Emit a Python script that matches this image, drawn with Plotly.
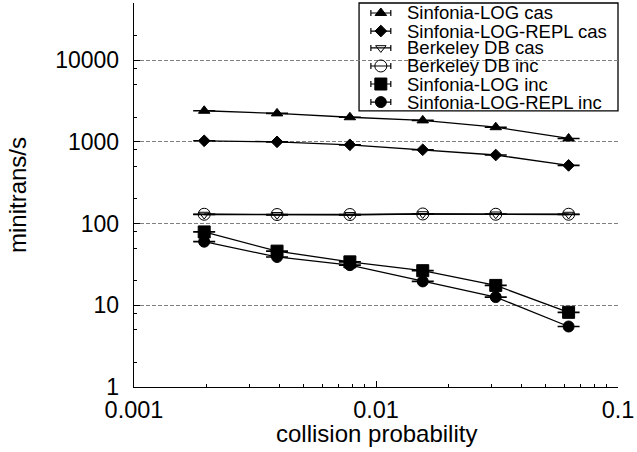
import plotly.graph_objects as go
import math

# ---- data ----
collision_prob = [0.00195, 0.0039, 0.0078, 0.0156, 0.03125, 0.0625]
sinfonia_log_cas = [2400, 2230, 2000, 1830, 1510, 1100]
sinfonia_log_repl_cas = [1030, 1000, 920, 800, 690, 515]
berkeley_cas = [129, 128, 128, 131, 130, 129]
berkeley_inc = [130, 129, 129, 131, 130, 130]
sinfonia_log_inc = [79, 46, 34, 26.5, 17.5, 8.2]
sinfonia_log_repl_inc = [60, 39, 31, 19.6, 12.6, 5.5]

series_names = ["Sinfonia-LOG cas", "Sinfonia-LOG-REPL cas", "Berkeley DB cas",
                "Berkeley DB inc", "Sinfonia-LOG inc", "Sinfonia-LOG-REPL inc"]
series_values = [sinfonia_log_cas, sinfonia_log_repl_cas, berkeley_cas,
                 berkeley_inc, sinfonia_log_inc, sinfonia_log_repl_inc]
series_symbols = ["triangle-up", "diamond", "triangle-down-open",
                  "circle-open", "square", "circle"]
series_sizes = [10, 9, 9, 12, 12, 11]

x_tick_vals = [0.001, 0.01, 0.1]
x_tick_text = ["0.001", "0.01", "0.1"]
y_tick_vals = [1, 10, 100, 1000, 10000]
y_tick_text = ["1", "10", "100", "1000", "10000"]

FONT = "Liberation Sans, Arial, Helvetica, sans-serif"

fig = go.Figure()

for name, vals, sym, sz in zip(series_names, series_values, series_symbols, series_sizes):
    fig.add_trace(go.Scatter(
        x=collision_prob, y=vals, name=name, mode="lines+markers",
        line=dict(color="black", width=1.3),
        marker=dict(symbol=sym, size=sz, color="black",
                    line=dict(color="black", width=1)),
        error_y=dict(type="percent", value=0.5, color="black", thickness=1.3, width=11),
        showlegend=False,
    ))

# ---- hand-built legend (overlay axes in 0..1 units) ----
leg_y = [0.974, 0.927, 0.883, 0.836, 0.789, 0.742]
leg_marker_x = 0.510
for name, sym, sz, yy in zip(series_names, series_symbols, series_sizes, leg_y):
    fig.add_trace(go.Scatter(
        x=[leg_marker_x], y=[yy], xaxis="x2", yaxis="y2", mode="markers",
        marker=dict(symbol=sym, size=sz, color="black", line=dict(color="black", width=1)),
        error_x=dict(type="constant", value=0.0206, color="black", thickness=1.2, width=3),
        showlegend=False, hoverinfo="skip",
    ))
    fig.add_annotation(x=0.559, y=yy, xref="paper", yref="paper", text=name,
                       showarrow=False, xanchor="left", yanchor="middle",
                       font=dict(family=FONT, size=18.5, color="black"))

fig.add_shape(type="rect", xref="paper", yref="paper", x0=0.465, x1=1.0, y0=0.719, y1=1.0,
              line=dict(color="black", width=1.3), fillcolor="white", layer="between")

# x-axis title placed as annotation
fig.add_annotation(x=0.5, y=-0.12, xref="paper", yref="paper", text="collision probability",
                   showarrow=False, xanchor="center", yanchor="middle",
                   font=dict(family=FONT, size=24, color="black"))

fig.update_layout(
    width=637, height=452,
    margin=dict(l=134, r=17, t=3, b=65),
    paper_bgcolor="white", plot_bgcolor="white",
    font=dict(family=FONT, color="black"),
    hovermode=False,
    xaxis=dict(
        type="log", range=[-3, -1],
        tickvals=x_tick_vals, ticktext=x_tick_text,
        tickfont=dict(size=23.5), ticks="inside", ticklen=6, tickwidth=1, tickcolor="black",
        minor=dict(ticks="inside", ticklen=3, tickwidth=1, tickcolor="black", dtick="D1"),
        showline=True, linecolor="black", linewidth=1.3, mirror=False,
        showgrid=False, zeroline=False,
        ticklabelstandoff=1,
    ),
    yaxis=dict(
        type="log", range=[0, math.log10(50000)],
        tickvals=y_tick_vals, ticktext=y_tick_text,
        tickfont=dict(size=23), ticks="inside", ticklen=6, tickwidth=1, tickcolor="black",
        minor=dict(ticks="inside", ticklen=3, tickwidth=1, tickcolor="black",
                   tickvals=[2, 5, 8, 20, 50, 80, 200, 500, 800, 2000, 5000, 8000, 20000]),
        showline=True, linecolor="black", linewidth=1.3, mirror=False,
        showgrid=True, gridcolor="#808080", griddash="4px,2px", gridwidth=1,
        zeroline=False,
        title=dict(text="minitrans/s", font=dict(size=24), standoff=21),
        ticklabelstandoff=9,
    ),
    xaxis2=dict(overlaying="x", range=[0, 1], visible=False, fixedrange=True),
    yaxis2=dict(overlaying="y", range=[0, 1], visible=False, fixedrange=True),
)

fig.write_html("out.html", config={"displayModeBar": False, "staticPlot": True},
               post_script="document.body.style.margin='0';")
